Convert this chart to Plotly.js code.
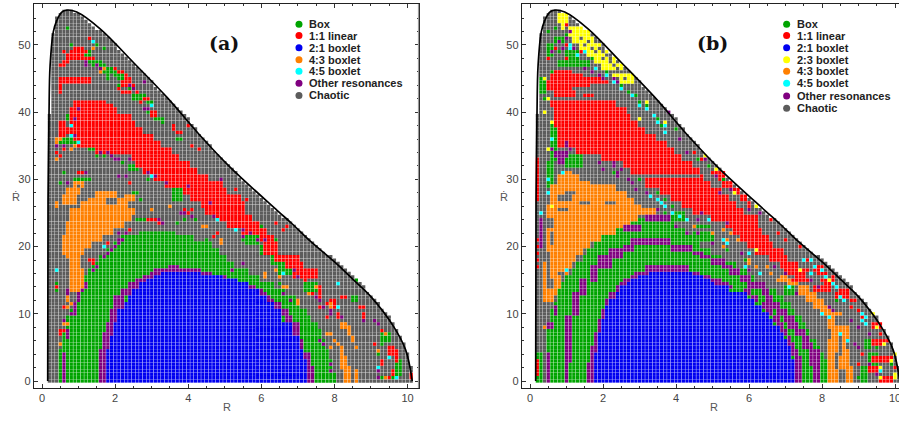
<!DOCTYPE html>
<html><head><meta charset="utf-8">
<script src="https://cdn.plot.ly/plotly-3.0.1.min.js"></script>
<style>html,body{margin:0;padding:0;background:#fff;overflow:hidden;width:899px;height:425px}</style>
</head><body><div id="chart"></div>
<script>
// Orbit families
const colBox='#00a400',colLinear='#ff0000',colBlue='#0000f0',colYellow='#ffff00',colOrange='#ff8000',colCyan='#00ffff',colOther='#800080',colChaotic='#5c5c5c';
const legendNamesA=['Box','1:1 linear','2:1 boxlet','4:3 boxlet','4:5 boxlet','Other resonances','Chaotic'];
const legendColorsA=[colBox,colLinear,colBlue,colOrange,colCyan,colOther,colChaotic];
const legendNamesB=['Box','1:1 linear','2:1 boxlet','2:3 boxlet','4:3 boxlet','4:5 boxlet','Other resonances','Chaotic'];
const legendColorsB=[colBox,colLinear,colBlue,colYellow,colOrange,colCyan,colOther,colChaotic];
const legendRdotA=[53.1,51.4,49.6,47.8,46.1,44.3,42.5];
const legendRdotB=[53.1,51.4,49.6,47.8,46.1,44.3,42.4,40.6];

// Boundary of the accessible region
const curveR=[0.155,0.165,0.19,0.22,0.31,0.40,0.54,0.68,0.95,1.59,2.5,3.42,4.33,5.15,6.43,6.84,7.34,8.07,8.53,8.99,9.62,9.95,10.13];
const curveRdot=[0,27,39.4,46.9,52,53.6,54.9,55.2,54.9,52.4,47.4,42.2,36.5,31.8,25.4,23.4,20.8,17.4,15,12.6,8.1,4.6,0];

// Right end of the sampled grid per half unit of Rdot, from 0 to 55
const gridRight=[10.1,10.1,10.1,10.1,10.1,10,10,10,10,9.9,9.9,9.9,9.8,9.8,9.7,9.7,9.6,9.6,9.5,9.5,9.4,9.3,9.2,9.2,9.1,9,8.9,8.8,8.8,8.7,8.6,8.5,8.4,8.3,8.2,8.1,8,7.9,7.7,7.6,7.5,7.4,7.3,7.2,7.1,7,6.9,6.8,6.7,6.5,6.4,6.3,6.2,6.1,6,5.9,5.8,5.7,5.6,5.5,5.4,5.3,5.3,5.2,5.1,5,4.9,4.8,4.7,4.6,4.6,4.5,4.4,4.3,4.2,4.2,4.1,4,4,3.9,3.8,3.7,3.6,3.5,3.4,3.3,3.2,3.1,3,3,2.9,2.8,2.7,2.6,2.5,2.4,2.3,2.2,2.1,2,2,1.9,1.8,1.7,1.6,1.4,1.3,1.2,1.1,1,0.8];
// Left end bands: [Rdot from, Rdot to, R]
const gridLeft=[[0,39.5,0.2],[40,51.5,0.3],[52,54,0.4],[54.5,54.5,0.5],[55,55,0.6]];

// PANEL A. Spans are [Rdot from, Rdot to, R from, R to]; dots are [R, Rdot].
const boxSpansA=[[0,1,.5,8],[1.5,3,.5,7.9],[3.5,4.5,.5,7.8],[5,6,.6,7.7],[6.5,7.5,.6,7.6],[8,8.5,.7,7.5],[9,9.5,.7,7.3],[10,10.5,.8,7.2],[11,11.5,.9,7],[12,12.5,1,6.9],[13,13.5,1.1,6.6],[14,14.5,1.2,6.3],[15,15.5,1.2,5.9],[16,16.5,1.3,5.6],[17,17.5,1.4,5.2],[18,18.5,1.6,5],[19,19.5,1.8,4.8],[20,20.5,2,4.6],[21,21.5,2.2,4.1],[22,22,2.7,3.6],
 [49,49,1.2,1.3],[48.5,48.5,1.2,1.3],[47.5,47.5,1.3,1.6],[47,47,1.4,1.7],[46.5,46.5,1.7,2],[46,46,1.7,2.1],[45.5,45.5,2,2.3],[45,45,2.1,2.2],[42.5,42.5,2.5,2.8],[42,42,2.5,2.7],[39,39,3.1,3.3],[36,36,3.7,3.8],[35.5,36,.4,.9],[32,32,2.4,2.5],[31.5,31.5,2.4,2.6],[30,30,.9,1.3],[27,28.5,3.6,3.8],[20.5,22.5,5.6,5.9],[19,20,6,6.2],[17.5,18.5,6.3,6.6],[16,17,6.5,6.8],[13.5,14.5,7.15,7.5],[1,3,9.7,9.8],[6,7,9.3,9.5],[12,12.5,8.5,8.6]];
const boxDotsA=[[.7,52.5],[1.7,49.5],[.8,50],[1.8,45.5],[1.8,45],[2.1,44],[2.4,43.5],[2.9,41.5],[3,41.5],[2.9,40],[3.3,38.5],[.6,38],[.7,39],[.7,39.5],[1.7,33.5],[1.5,33.5],[1.3,34.5],[1.2,35],[1.4,34.5],[1.7,35],[2.2,32.5],[.6,31],[.5,29.5],[2.5,28],[2.6,28],[2.7,27],[.4,14.5],[.4,13.5],[2.5,25.5],[2.6,24],[2.7,24],[2.8,24],[3.7,23.5],[3.9,24],[4.2,24],[4.1,24.5],[5.2,17.5],[4.5,21],[5.3,25],[3.7,30],[3.5,30],[3.4,30.5],[5,28],[5.5,21],[5.2,23],[5.4,23],[5.6,24],[6.4,21],[8.6,15],[9.3,5.5],[9.2,4],[9.6,.5],[9.7,1],[9.3,.5],[9.6,4],[2.9,30],[6.9,24.5],[6.5,14.5],[6,23],[1.5,50]];
const orangeSpansA=[[25,25.5,.8,2.5],[24,24.5,.77,2.4],[23,23.5,.72,2.2],[22,22.5,.68,1.85],[21,21.5,.6,1.6],[20,20.5,.6,1.3],[19,19.5,.6,1.13],[18,18.5,.7,1],[17,17.5,.75,.95],[16,16.5,.75,1.1],[13.5,15.5,.75,1.05],[26,27,1.1,2.3],[27.5,28,1.5,2],[28,28.5,.7,1],[29,29.5,.85,1.1],[26.5,27.5,.6,.85],[27,27.5,2.3,2.5],[26,26.5,.4,.4],[0,2,8.3,8.4],[0,1.5,8.6,8.6],[2,3.5,8.2,8.3],[3.5,5,8.2,8.2],[6,6.5,8.5,8.5],[7,8,8.4,8.4],[8,8.5,8.2,8.3],[10.5,12,7.9,7.9],[11.5,12,7,7],[15.5,16,6.1,6.1]];
const orangeDotsA=[[.5,5.5],[.7,8.5],[.6,8.5],[.7,11],[.8,11.5],[.7,12],[.7,12.5],[.9,49.5],[1.4,49.5],[.6,49],[1.6,46],[1.6,46.5],[1.7,46.5],[2.9,40.5],[.4,35.5],[.4,36],[.4,33],[.4,34],[.5,36],[.8,34.5],[.9,35],[1.5,34],[3,25.7],[3.5,26],[4.2,28],[4.4,27],[4.4,23],[4.5,23],[4.9,21],[4.9,20.5],[8.1,5.5],[8,6],[7.9,5],[7.75,7],[7.9,7],[8.6,5],[8.1,9.5],[7.7,11],[7.5,14],[7.25,13],[6.55,14],[6.65,14],[6.35,16.5],[6.5,15.5],[9.4,.5],[9.2,4.5],[9.6,5],[9.4,7]];
const chaoticHolesA=[[26.5,27,1.8,2],[27,27.5,1.1,1.2],[29,29,1,1],[17,18,.55,.65]];
const linearSpansA=[[41.5,41.5,.9,1.7],[41,41,.9,1.9],[40,40.5,.8,2],[39,39.5,.8,2.4],[38,38.5,.8,2.5],[37,37.5,.7,2.7],[36,36.5,.9,3],[35,35.5,1,3.2],[34,34.5,1.5,3.5],[33,33.5,2.5,3.7],[32,32.5,2.6,4],[31,31.5,2.8,4.2],[30,30.5,3.1,4.5],[29,29.5,3.4,4.9],[28,28.5,3.9,5],[27,27.5,4.1,5.4],[26,26.5,4.4,5.5],[25,25.5,4.5,5.5],[24,24.5,4.8,5.7],[23,23.5,5.1,5.9],[22,22.5,5.5,6.05],[21,21.5,5.95,6.3],[19,20.5,6.1,6.4],[18,18.5,6.4,6.95],[17,17.5,6.7,7.05],[15.5,16.5,6.9,7.5],
 [44.5,45,.6,1.3],[43,45,.5,.5],[49.5,49.5,.9,1.1],[49,49,.8,1.2],[48.5,48.5,.7,1.1],[48,48,.7,.9],[48,48,1,1.4],[47.5,47.5,.6,.7],[47,47,.5,.6],[44,44.5,2.2,2.4],[43,43,2.2,2.4],[36.5,38.5,.5,.6],[31,31,1,1.2],[12,14,7.6,7.6],[11,12,8,8],[4,4.5,9.45,9.65],[3,4.5,9.65,9.65],[9.5,10,8.8,8.8],[11,11,8.7,8.8],[1,1.5,9.55,9.55],[.5,1,10.1,10.1]];
const linearDotsA=[[1.3,51],[.6,49],[2,46.5],[2.1,46],[2.2,46],[2.3,45.5],[2.3,45],[2.4,45],[2.3,44],[2.5,44],[2.1,43.5],[2.5,43.5],[2.6,43],[2.8,42],[2.9,42],[2.7,41.5],[3,41],[3,40],[3.1,40],[3,39.5],[3.1,39.5],[4,38],[3.6,38],[3.6,37.5],[3.7,37],[3.8,37],[4.1,35],[4.3,34.5],[.5,33.5],[.4,34],[.6,34.5],[2.4,29.5],[1.3,18],[1.4,18],[1.4,17.5],[1.8,20.5],[2.4,22.5],[.4,14],[.6,11],[.5,7.5],[.5,7],[.6,7.5],[2.9,24],[3,24],[3.1,24],[3.2,23.5],[4,25],[3.9,25.5],[4.1,25.5],[4.8,22],[4.7,21.5],[5.3,28.5],[5.6,27],[5.4,26.5],[6.4,23.5],[6.7,23],[6.6,22.5],[8.3,12.5],[8.2,12.5],[7.8,11.5],[7.6,11],[9.05,5.5],[9.3,7.5],[9.25,3],[9.3,2.7],[9.5,.5],[9.5,5],[9.6,5],[7.4,13],[7.2,15],[7.9,12],[8.1,10],[8.05,9.5],[7.8,9.5]];
const cyanDotsA=[[1.4,50.5],[.8,38],[.8,36.5],[1,35.5],[3,41],[3,30.5],[.4,16.5],[1.7,20],[4.8,24],[5.3,22.5],[6.6,16],[8.1,14.5],[8.1,11],[9.5,3.5],[9.2,2],[9.7,.5]];
const otherDotsA=[[1.2,47.5],[1.2,47],[1.5,47],[1.6,46.5],[2.8,44.5],[2.4,44],[2.5,43.5],[2.8,40.5],[2.9,40.5],[1,40.5],[.9,39],[.9,36.5],[.4,35],[.6,35],[1.6,34],[1.8,34],[1.9,33.5],[2,33],[2.1,33],[2.4,33],[2.1,30.5],[2.3,30.5],[2.9,31],[3,30.5],[3.1,30.5],[3.4,29.5],[4,29],[1.2,31],[.7,29.5],[.7,13.5],[.7,13],[1,12],[1,12.5],[1,13],[.9,10],[.9,10.5],[.9,11],[.9,11.5],[.8,10],[.7,6.5],[.7,7],[.7,7.5],[.6,9],[1.7,18.5],[1.8,19],[1.9,19.5],[2,20],[2.1,20.5],[2.2,21],[2.1,21],[1.5,17],[1.4,16.5],[1.2,14.5],[1.2,14],[1.1,13.5],[2.1,22],[2.3,22],[3.2,24],[3.3,23.5],[3.8,25],[3.9,25],[4.1,24.5],[5.5,22.5],[5.5,21.5],[5.7,22],[5.5,17.5],[5.2,16.5],[4.7,24.5],[5.9,21],[6.1,21],[6.9,16.5],[7,15.5],[7.5,12.5],[7.6,12],[7.7,11],[7.9,10],[7.9,10.5],[8.2,9.5],[9.1,9],[9.2,8.5],[8.8,9],[7.6,6],[7.9,1.5],[7.9,2.5],[9.2,.5],[9.2,1.5],[7.7,5.5],[6.8,12],[6.6,13],[4.6,26.5],[4.9,30]];
const otherSpansA=[[0,4,.6,.6],[0,2,7.3,7.4],[2.5,4,7.2,7.3],[4,5,7.1,7.1],[0,4.5,1.6,1.7],[5,7,1.7,1.8],[7,8.5,1.8,1.9],[9,10.5,1.9,2],[11,12.5,2,2.2],[13,13.5,2.2,2.4],[14,14.5,2.4,2.6],[15,15,2.6,2.8],[15.5,15.5,2.8,3],[16,16,3,3.2],[16.5,16.5,3.1,4.3],[17,17,3.5,3.7],[16,16,4.4,4.6],[15.5,15.5,4.7,5],[15,15,5.1,5.3],[14.5,14.5,5.4,5.6],[14,14,5.7,5.8],[13.5,13.5,5.8,6],[13,13,6,6.1],[12.5,12.5,6.2,6.2],[12,12,6.2,6.3],[11,11.5,6.4,6.5],[10,10.5,6.5,6.7],[9,9.5,6.7,6.8],[8,8.5,6.8,7],[7,7.5,6.9,7],[5,6,7,7.1]];
const blueSpansA=[[0,3,1.8,7.2],[3.5,4.5,1.8,7.1],[5,6.5,1.9,7],[7,8.5,2,6.8],[9,10.5,2.1,6.5],[11,11.5,2.3,6.3],[12,12.5,2.4,6.1],[13,13.5,2.5,5.9],[14,14.5,2.7,5.6],[15,15,2.9,5.3],[15.5,15.5,3.1,4.9],[16,16,3.3,4.3]];

// PANEL B
const boxSpansB=[[0,1.5,.6,8.2],[2,3,.6,8.1],[3.5,4,.6,8],[4.5,5,.5,7.9],[5.5,6,.5,7.8],[6.5,7.5,.5,7.6],[8,8.5,.6,7.5],[9,9.5,.6,7.4],[10,10.5,.6,7.2],[11,11.5,.7,7.1],[12,12.5,.8,6.9],[13,13.5,.8,6.7],[14,14.5,.9,6.4],[15,15.5,1,6.1],[16,16.5,1.2,5.9],[17,17.5,1.3,5.6],[18,18.5,1.45,5.2],[19,19.5,1.6,4.9],[20,20.5,1.8,4.6],[21,21.5,2,4.4],[22,22.5,2.2,4.2],[23,23.5,2.5,3.9],[24,24,2.9,3.3],[0,4,.2,.3],
 [48.5,50,.5,.6],[43,45,.3,.4],[36.5,38.5,.6,.7],[33,36.5,.6,.7],[29,32.5,.5,.6],[32,33.5,1,1.4],[46.8,47.5,.8,1.6],[48,49,1,1.3],[50.5,51,.7,.9],[24,25,3.9,4.2],[23,23,4.6,4.9],[21,22,4.5,5],[13,14,7,7.2],[0,2,9.1,9.2],[2,4,9.3,9.5],[5,6,9.2,9.3]];
const boxDotsB=[[.5,52],[.7,52.5],[.9,53],[1,51.5],[1.2,52],[1.4,51],[1.1,50],[.8,49],[.6,46],[.4,42],[1.7,48],[1.9,47.5],[2.1,46],[2.3,45.5],[2.5,44],[2.7,43],[2.9,42.5],[3,41.5],[3.2,41],[3.5,39],[3.6,38],[4,37.5],[4.4,33],[4.6,33],[4.7,32.5],[4.9,32],[5.1,31],[5.3,30],[5.4,29],[5.8,27.5],[5.6,27],[6,26],[6.3,24.5],[6.5,24.5],[5.7,25],[2.3,31],[3,30],[1.2,30.5],[1.3,30],[3.3,29],[3.5,28],[3.7,27],[3.9,26],[3.7,25],[8.4,12],[9.6,9],[9.4,8],[9.2,6],[9.5,5],[9.7,3],[9.9,2.5],[9.7,.5],[9,.5],[9.2,.5],[10,9],[5.9,18],[5.4,19.5],[5,21.5]];
const orangeSpansB=[[0,2,8.15,8.4],[2.5,6,8.2,8.3],[0,2,8.65,8.8],[2,4,8.5,8.7],[4,8,8.3,8.7],[8,10,8.2,8.5],[10,11,8,8.2],[11,12,7.8,8],[12,13,7.6,7.8],[13,14,7.4,7.6],[14.5,15,7.1,7.3],[15,15.5,6.9,7],[25,25.5,.45,3.4],[24,24.5,.45,2.9],[23,23.5,.5,2.65],[22,22.5,.5,2.3],[21,21.5,.5,1.9],[20,20.5,.5,1.55],[19,19.5,.5,1.35],[18,18.5,.5,1.2],[17,17.5,.4,1.1],[16,16.5,.4,1],[15,15.5,.4,.8],[14,14.5,.4,.75],[13,13.5,.4,.65],[12,12.5,.4,.6],[9.5,11,.5,.5],[25.5,26,.45,3],[26.5,27,.55,2.8],[27.5,28,.55,2.55],[28.5,29,.55,2.3],[29.5,29.5,.75,1.55],[30,30.5,.8,1.3],[31,31,.85,1.1]];
const orangeDotsB=[[.4,8],[4.5,23],[5.4,21],[5.7,21],[5.3,20],[6.4,19],[6.2,17],[6.6,16],[5.3,22.5],[4.9,24],[5,22],[5.5,22],[6,21],[6,18],[6.5,17],[6.8,15],[6,17.5]];
const chaoticHolesB=[[4,6.5,8.45,8.5],[2,4,8.35,8.4],[8.5,9.5,8.4,8.5],[.5,1.5,8.45,8.6],[5,6,8.65,8.7],[15.5,19,.5,.5],[27,27.5,.8,1.1],[28,28,1,1.2],[26.5,26.5,1.4,1.6],[26.5,26.5,2.1,2.3],[25.5,25.5,.8,1],[16,16,.8,.9],[14,15,.5,.6],[9.5,11.5,.4,.5],[20.5,22,.6,.6],[23,24,.45,.55]];
const linearSpansB=[[46,46,.7,1.1],[45.5,45.5,.6,1.4],[45,45,.6,2],[44.5,44.5,.5,2.1],[44,44,.45,1.55],[43.5,43.5,.45,1.1],[42.5,43,.7,1.2],[42.5,42.5,1.5,1.7],[41,41.5,.6,2.3],[40,40.5,.65,2.55],[39,39.5,.65,2.65],[38,38.5,.65,2.9],[37,37.5,.8,3.1],[36,36.5,.8,3.4],[35,35.5,.8,3.65],[34,34.5,1.3,3.9],[33,33.5,2,4.1],[32,32.5,2.55,4.4],[31,31.5,2.8,4.66],[30.5,31,4.7,5.3],[29,30,3.2,4.7],[29,29.5,4.8,5.5],[28,28.5,3.6,4.9],[28,28.5,5,5.7],[27,27.5,3.9,5.9],[26,26.5,4.2,6],[25,25.5,4.5,6],[24,24.5,4.95,6.2],[23,23.5,5.4,6.2],[22,22.5,5.6,6.3],[21,21.5,5.75,6.45],[20,20.5,5.95,6.57],[19,19.5,6.2,6.85],[18,18.5,6.57,7],[17,17.5,6.85,7.3],[16,16.5,7,7.55],[15,15.5,7.3,7.65],[13.5,14,7.8,8.2],[13,13.5,8.5,8.7],[12.5,13,8.4,8.7],[12,12,8.8,8.9],[8,8.5,9.4,9.7],[5.5,6,9.35,9.7],[3,3.5,9.4,9.9],[1.5,2,9.3,9.6],[0,.5,9.6,9.9],[14.5,15,8.1,8.3],[16,17,7.8,8],[.2,.5,9.65,9.8],[1,3,.2,.2],[27,33,.2,.2]];
const linearDotsB=[[.5,48],[.4,45],[1,48],[1.2,52.5],[1,53],[1.4,49],[1.3,48.7],[.7,49.5],[1,50],[4.5,34],[4.7,32.8],[4.9,31.5],[5.2,30],[6.6,24],[6.8,22],[7,21],[7.4,20],[7.6,18],[8.1,16],[8.3,15.5],[8,15],[8.4,14],[7.2,15],[8.8,11],[9,10.5],[9.1,9.5],[.2,18],[.2,17],[.2,19],[.2,20],[.2,21],[10,2],[9.95,4],[9.8,6],[9.6,7],[9,2.5],[9.1,4]];
const yellowSpansB=[[53.5,54.5,.8,.95],[52.5,53,.9,.9],[51.5,52.5,1.1,1.55],[50.5,51,1.15,1.7],[49.5,50,1.37,1.87],[48.5,49,1.55,2.1],[47.5,48,1.83,2.33],[46.5,47,2,2.5],[45.5,45.5,2.3,2.75],[44.5,45,2.5,2.8]];
const chaoticDotsB=[[1.6,50.5],[1.5,50],[2,48],[2.1,48.5],[2.2,47.5],[2.3,47],[1.8,49],[1.9,49.5],[1.4,51],[1.7,49.5],[2,49],[2.2,48],[2.4,46.5],[2.6,45]];
// Grey streak between the main 1:1 region and the band along the boundary
const chaoticStreakB=[[33,33.5,4.2,4.4],[32,32.5,4.45,4.7],[31,31.5,4.7,4.9],[30,30.5,4.8,5],[29,29.5,5,5.2],[28,28.5,5.3,5.5],[27,27.5,5.5,5.7],[26,26.5,5.7,5.85],[25,25.5,5.9,6],[24,24.5,6.3,6.5],[22,22.5,6.35,6.6],[20,20.5,6.7,6.9],[18,18.5,7.1,7.4],[15.5,16,7.6,7.8]];
const yellowDotsB=[[.4,45],[.5,42],[.4,40],[.6,38.5],[.5,34.5],[3,39],[3.7,38.5],[3.2,41.5],[4.8,33.5],[5.1,31.5],[5.6,28],[6.2,26],[6.4,25.5],[6.7,25],[.6,26],[6.2,19.5],[7.4,16.5],[8.2,15],[9.9,3],[9.7,5.5],[9.5,8],[10,.5],[10,1],[9.4,10],[9.9,6],[10,4],[9.6,2],[9.6,.3]];
const cyanDotsB=[[1.1,50],[1.1,49.5],[1.3,48.5],[1.5,49],[1.8,46.5],[2.1,45.5],[2.3,44.5],[2.5,43.3],[2.8,42.3],[3,41],[3.2,40.7],[3.4,39.7],[3.5,38.7],[3.7,38.2],[3.7,37.2],[.3,25],[.5,30],[.5,28],[.6,36],[.9,31],[1,16.5],[3.9,25],[4.1,24.5],[4.3,24],[3.3,27.5],[3.5,27],[3.6,26.5],[3.7,26],[4.9,24],[5.3,21],[5.4,20.5],[6,19],[5.9,17],[6.3,16],[7.5,18],[7.7,18],[7.8,17],[8,16.5],[8.1,15.5],[8.3,14.5],[8.4,14],[7.7,16],[7.1,14],[8.5,12.5],[8.6,12],[9.1,10],[9.2,9.5],[9.1,9],[9.2,8.5],[8,10],[8.2,9.5],[8.5,7],[8.7,6],[9.6,1.5]];
const otherSpansB=[[0,4,.5,.5],[4,4,.5,.5],[20,24,.3,.3],[0,3,1,1],[3,9.5,1,1.1],[10,13,1.2,1.3],[13,15,1.4,1.5],[15,17,1.65,1.8],[17,18.5,1.9,2.2],[18.5,19.5,2.2,2.5],[19.5,20,2.6,2.8],[20.5,21,2.75,3.8],[19.5,20,3.85,4.4],[19,19,4.45,4.66],[18.5,18.5,4.7,4.9],[17.5,18,4.95,5.3],[17,17,5.3,5.5],[16,16.5,5.5,5.65],[15,15.5,5.75,6],[14,14.5,6,6.35],[13,13.5,6.35,6.5],[12,12.5,6.5,6.6],[11,11.5,6.6,6.8],[10,10.5,6.8,7],[9,9.5,7,7.15],[8,8.5,7.1,7.3],[7,7.5,7.3,7.5],[6,6.5,7.45,7.6],[5,5.5,7.5,7.7],[3.5,4.5,7.65,7.85],[2.5,3,7.7,7.85],[0,2,7.8,7.9],
 [0,2.5,1.6,1.7],[3,5,1.7,1.8],[5.5,7,1.8,1.8],[7.5,9,1.85,1.95],[9.5,10.5,1.95,2.05],[11,12,2.05,2.15],[12.5,13,2.2,2.35],[13.5,14,2.35,2.45],[14.5,14.5,2.45,2.6],[15,15,2.6,2.7],[15.5,15.5,2.75,2.9],[16,16,2.9,3.2],[16.5,17,3.2,4.3],[16,16,4.4,4.6],[15.5,15.5,4.7,4.9],[15,15,5,5.2],[14.5,14.5,5.1,5.4],[14,14,5.4,5.5],[13,13.5,5.9,6],[12,12.5,6.1,6.2],[11,11.5,6.35,6.45],[10,10.5,6.5,6.6],[9,9.5,6.66,6.76],[8,8.5,6.8,6.9],[7,7.5,6.9,7],[6,6.5,7.05,7.1],[5,5.5,7.1,7.2],[4,4.5,7.2,7.3],[0,3.5,7.3,7.4],[22.5,23,2.6,3],[24,24.5,3.2,3.8],[8,8.5,.5,.6],[10,11,.7,.7],[33.5,34,.7,1],[32.5,33,.8,.9]];
const otherDotsB=[[.6,49],[.8,50.5],[1,51],[.9,49.5],[1.2,49.5],[1.5,46.5],[1.7,46],[1.9,45.5],[2,45],[2.3,45],[2.4,44.5],[1.1,52],[.6,34.5],[1,35],[1,35.5],[1.1,34.5],[1.9,32.5],[2,31.5],[2.4,31],[2.3,32.5],[2.3,32],[2.4,30.5],[2.5,31.5],[2.7,30],[2.8,29.5],[2.9,28.5],[3.2,28],[3.5,25.5],[4,23],[4.3,22],[4.6,22],[5,20.5],[5.8,19],[6,16.5],[6.7,17],[7,16],[7.3,13],[7.7,15],[8.2,11],[8.3,10.5],[8.8,9],[9,8],[9.3,6.8],[9,5],[9.5,1],[9.3,2.5],[9.9,7],[3.8,40],[4.1,36],[4.3,34],[4.8,33],[5.1,30.5],[5.5,28.5],[5.2,28],[6,25.5],[6.3,25],[5.4,23.5],[4.7,25],[4.6,24],[7.9,14],[8.9,5.5]];
const blueSpansB=[[0,3,1.8,7.2],[3.5,4,1.8,7.1],[4.5,5,1.9,7.05],[5.5,6,1.9,7],[6.5,7,1.9,6.85],[7.5,8,2,6.75],[8.5,9,2,6.6],[9.5,10,2.1,6.45],[10.5,11,2.1,6.3],[11.5,12,2.2,6.05],[12.5,13,2.4,5.85],[13.5,14,2.5,5.35],[14.5,14.5,2.65,5],[15,15,2.8,4.9],[15.5,15.5,3,4.65],[16,16,3.3,4.35]];

const paneLabels=['(a)','(b)'];
const xTickVals=[0,2,4,6,8,10];
const yTickVals=[0,10,20,30,40,50];

function buildCells(layers){
  const cells=new Map();
  const put=(x,y,c)=>{
    const iy=Math.round(y*2), ix=Math.round(x*10);
    if(iy<0||iy>110) return;
    const key=ix+'_'+iy;
    if(c==='base'||cells.has(key)) cells.set(key,c==='base'?colChaotic:c);
  };
  gridRight.forEach((right,i)=>{
    const y=i/2;
    const band=gridLeft.find(b=>y>=b[0]&&y<=b[1]);
    for(let ix=Math.round(band[2]*10);ix<=Math.round(right*10);ix++) put(ix/10,y,'base');
  });
  layers.forEach(([color,spans,dots])=>{
    (spans||[]).forEach(([y0,y1,x0,x1])=>{
      for(let iy=Math.ceil(y0*2-1e-6);iy<=Math.floor(y1*2+1e-6);iy++)
        for(let ix=Math.round(x0*10);ix<=Math.round(x1*10);ix++) put(ix/10,iy/2,color);
    });
    (dots||[]).forEach(([x,y])=>put(x,y,color));
  });
  return cells;
}
function cellTraces(cells,xa,ya,order){
  return order.map(color=>{
    const x=[],y=[];
    cells.forEach((c,k)=>{ if(c===color){const p=k.split('_');x.push(+p[0]/10);y.push(+p[1]/2);} });
    return {type:'scatter',mode:'markers',x,y,xaxis:xa,yaxis:ya,showlegend:false,hoverinfo:'skip',
      marker:{color,size:3.25,symbol:'square',line:{width:0}}};
  });
}
const cellsA=buildCells([
 [colBox,boxSpansA,boxDotsA],[colOrange,orangeSpansA,orangeDotsA],[colChaotic,chaoticHolesA,null],
 [colLinear,linearSpansA,linearDotsA],[colOther,otherSpansA,otherDotsA],[colCyan,null,cyanDotsA],[colBlue,blueSpansA,null]]);
const cellsB=buildCells([
 [colBox,boxSpansB,boxDotsB],[colOrange,orangeSpansB,orangeDotsB],[colChaotic,chaoticHolesB,null],
 [colLinear,linearSpansB,linearDotsB],[colYellow,yellowSpansB,yellowDotsB],[colChaotic,chaoticStreakB,chaoticDotsB],[colOther,otherSpansB,otherDotsB],[colCyan,null,cyanDotsB],[colBlue,blueSpansB,null]]);
const order=[colChaotic,colBox,colLinear,colBlue,colYellow,colOrange,colCyan,colOther];
const legendX=7.03;
const data=[
 ...cellTraces(cellsA,'x','y',order),
 ...cellTraces(cellsB,'x2','y2',order),
 {type:'scatter',mode:'lines',x:curveR,y:curveRdot,xaxis:'x',yaxis:'y',line:{color:'#000',width:1.7,shape:'spline'},showlegend:false,hoverinfo:'skip'},
 {type:'scatter',mode:'lines',x:curveR,y:curveRdot,xaxis:'x2',yaxis:'y2',line:{color:'#000',width:1.7,shape:'spline'},showlegend:false,hoverinfo:'skip'},
 {type:'scatter',mode:'markers',x:legendRdotA.map(()=>legendX),y:legendRdotA,xaxis:'x',yaxis:'y',marker:{size:7,color:legendColorsA},showlegend:false,hoverinfo:'skip'},
 {type:'scatter',mode:'markers',x:legendRdotB.map(()=>legendX),y:legendRdotB,xaxis:'x2',yaxis:'y2',marker:{size:7,color:legendColorsB},showlegend:false,hoverinfo:'skip'}
];
const W=915,H=425;
const xBase={range:[-0.22,10.3],tickvals:xTickVals,ticks:'inside',ticklen:4,tickwidth:1,tickcolor:'#333',showline:true,linecolor:'#222',linewidth:1.2,mirror:'ticks',showgrid:false,zeroline:false,
 tickfont:{family:'Liberation Sans',size:11,color:'#444'},minor:{dtick:0.5,ticks:'inside',ticklen:2,tickcolor:'#333',showgrid:false}};
const yBase={range:[-1.04,56.1],tickvals:yTickVals,ticks:'inside',ticklen:4,tickwidth:1,tickcolor:'#333',showline:true,linecolor:'#222',linewidth:1.2,mirror:'ticks',showgrid:false,zeroline:false,
 tickfont:{family:'Liberation Sans',size:11,color:'#444'},minor:{dtick:2,ticks:'inside',ticklen:2,tickcolor:'#333',showgrid:false}};
const legendText=(names,rows,ref)=>names.map((t,i)=>({text:t,x:legendX+0.22,y:rows[i],xref:ref[0],yref:ref[1],xanchor:'left',yanchor:'middle',showarrow:false,
 font:{family:'Liberation Sans',size:11,color:'#222',weight:700}}));
const labelFont={family:'Liberation Sans',size:11,color:'#555'};
const boldSerif={family:'DejaVu Serif',size:19,color:'#111',weight:700};
const dFracX=p=>(p-34)/384.5, dFracY=p=>(388-p)/384, dFracX2=p=>(p-522)/384;
const layout={width:W,height:H,margin:{l:0,r:0,t:0,b:0},paper_bgcolor:'#fff',plot_bgcolor:'#fff',showlegend:false,
 xaxis:{...xBase,domain:[34/W,418.5/W],anchor:'y'},yaxis:{...yBase,domain:[37/H,421/H],anchor:'x'},
 xaxis2:{...xBase,domain:[522/W,906/W],anchor:'y2'},yaxis2:{...yBase,domain:[37/H,421/H],anchor:'x2'},
 annotations:[
  ...legendText(legendNamesA,legendRdotA,['x','y']),...legendText(legendNamesB,legendRdotB,['x2','y2']),
  {text:paneLabels[0],x:4.99,y:50.3,xref:'x',yref:'y',showarrow:false,font:boldSerif},
  {text:paneLabels[1],x:5.01,y:50.3,xref:'x2',yref:'y2',showarrow:false,font:boldSerif},
  {text:'R',x:dFracX(227),y:dFracY(415),xref:'x domain',yref:'y domain',showarrow:false,font:labelFont},
  {text:'R',x:dFracX2(714),y:dFracY(415),xref:'x2 domain',yref:'y2 domain',showarrow:false,font:labelFont},
  {text:'Ṙ',x:dFracX(10),y:dFracY(197),xref:'x domain',yref:'y domain',showarrow:false,font:labelFont},
  {text:'Ṙ',x:dFracX2(498),y:dFracY(197),xref:'x2 domain',yref:'y2 domain',showarrow:false,font:labelFont}
 ],
 shapes:[{type:'line',xref:'paper',yref:'paper',x0:418.5/W,x1:418.5/W,y0:37/H,y1:421/H,line:{color:'#999',width:1.2}}]
};
Plotly.newPlot('chart',data,layout,{staticPlot:true,displayModeBar:false,responsive:false});
</script></body></html>
